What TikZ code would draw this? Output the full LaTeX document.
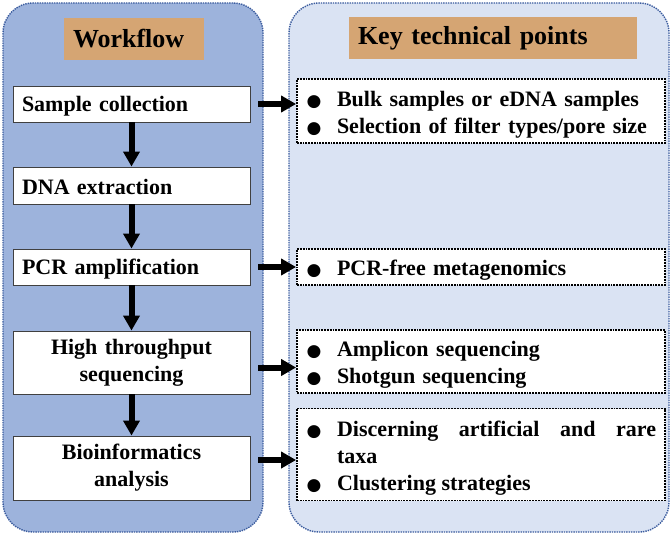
\documentclass[tikz,border=0pt]{standalone}
\usepackage{fontspec}
\setmainfont{Liberation Serif}
\newfontfamily\symf{DejaVu Sans}
\usetikzlibrary{arrows.meta}
\definecolor{leftbg}{HTML}{9DB3DC}
\definecolor{rightbg}{HTML}{DAE3F3}
\definecolor{labelc}{HTML}{D5A573}
\definecolor{panelline}{HTML}{3B5C9E}
\newcommand\bul{\rule{0pt}{22pt}\makebox[31pt][l]{\hspace{0.5pt}{\symf\fontsize{17}{17}\selectfont ●}}}
\begin{document}
\begin{tikzpicture}[x=1pt,y=-1pt,
  font=\fontsize{22}{27}\selectfont\bfseries,
  panel/.style={draw=panelline, densely dotted, line width=1.4pt, rounded corners=30pt, minimum height=529pt, inner sep=0pt},
  titlebox/.style={fill=labelc, inner xsep=9pt, inner ysep=0pt, minimum height=42pt, align=left, font=\fontsize{26}{30}\selectfont\bfseries},
  wbox/.style={draw=black!75, line width=0.9pt, fill=white, inner xsep=9pt, inner ysep=0pt, text width=219pt},
  kbox/.style={draw=black, densely dotted, line width=1.8pt, fill=white, inner xsep=9pt, inner ysep=0pt, text width=350pt, align=left},
  arr/.style={-{Triangle[length=15pt,width=16pt]}, line width=6pt}
]
\useasboundingbox (0,0) rectangle (672,535);
\node[panel, fill=leftbg, minimum width=260pt] (lp) at (133,267.5) {};
\node[panel, fill=rightbg, minimum width=380pt] (rp) at (479,267.5) {};
\node[titlebox, text width=122pt] (wf) at (134,39) {Workflow};
\node[titlebox, text width=270pt] (kt) at (493,38) {Key technical points};

\node[wbox, minimum height=36pt, align=left] (sc) at (131.5,104) {\rule{0pt}{19pt}Sample collection};
\node[wbox, minimum height=37pt, align=left] (dna) at (131.5,185.5) {\rule{0pt}{19pt}DNA extraction};
\node[wbox, minimum height=36pt, align=left] (pcr) at (131.5,267) {\rule{0pt}{19pt}PCR amplification};
\node[wbox, minimum height=63pt, align=center] (hts) at (131.5,362.5) {High throughput\\sequencing};
\node[wbox, minimum height=64pt, align=center] (bio) at (131.5,468) {Bioinformatics\\analysis};

\node[kbox, minimum height=64pt] (k1) at (481,111) {\bul Bulk samples or eDNA samples\\\bul Selection of filter types/pore size};
\node[kbox, minimum height=36pt] (k2) at (481,267) {\bul PCR-free metagenomics};
\node[kbox, minimum height=63pt] (k3) at (481,361.5) {\bul Amplicon sequencing\\\bul Shotgun sequencing};
\node[kbox, minimum height=92pt, align=justify] (k4) at (481,454.5) {{\noindent\hangindent=31pt\hangafter=1\bul Discerning artificial and rare\linebreak taxa\par}\noindent\bul Clustering strategies};

\draw[arr, shorten <=8pt] (sc.east) -- (sc.east -| k1.west);
\draw[arr, shorten <=8pt] (pcr.east) -- (pcr.east -| k2.west);
\draw[arr, shorten <=8pt] (hts.east) ++(0,5) coordinate (h1) (h1) -- (h1 -| k3.west);
\draw[arr, shorten <=8pt] (bio.east) ++(0,-8) coordinate (b1) (b1) -- (b1 -| k4.west);

\draw[arr] (sc.south) -- (dna.north);
\draw[arr] (dna.south) -- (pcr.north);
\draw[arr] (pcr.south) -- (hts.north);
\draw[arr] (hts.south) -- (bio.north);
\end{tikzpicture}
\end{document}
